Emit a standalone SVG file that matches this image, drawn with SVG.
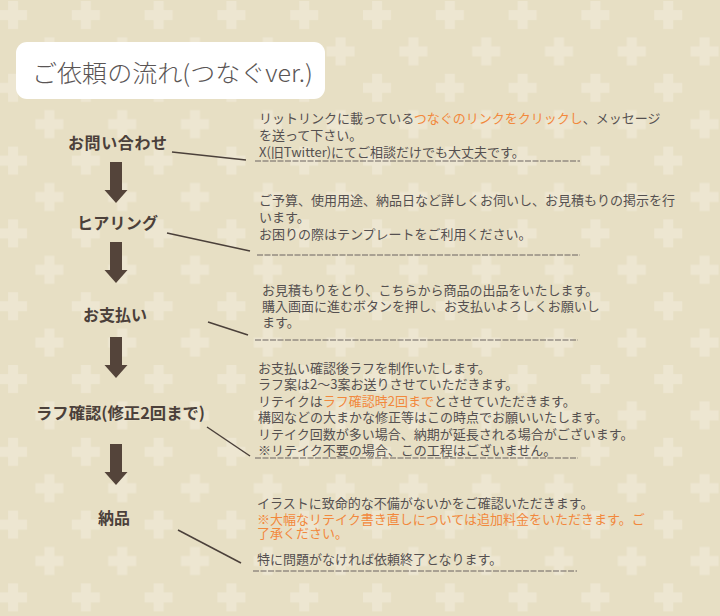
<svg xmlns="http://www.w3.org/2000/svg" xmlns:xlink="http://www.w3.org/1999/xlink" width="720" height="616" viewBox="0 0 720 616">
<style>
.lbl{font-family:"Noto Sans CJK JP","Noto Sans",sans-serif;font-weight:bold;font-size:16px;fill:#4b403a;}
.body{font-family:"Noto Sans CJK JP","Noto Sans",sans-serif;font-size:13px;fill:#555050;}
.hl{fill:#f2883c;}
.title{font-family:"Noto Sans CJK JP","Noto Sans",sans-serif;font-weight:300;font-size:24px;fill:#5a5555;}
.diag{stroke:#4b403a;stroke-width:1.5;fill:none;}
.rule{stroke:#6a6260;stroke-width:1;stroke-dasharray:6 1.5;fill:none;}
.arrow{fill:#54443a;}
</style>
<defs>
<pattern id="bgp" patternUnits="userSpaceOnUse" x="-5" y="-3" width="72.8" height="72.8">
<g fill="#ede6d1">
<rect x="4" y="13" width="28" height="10"/>
<rect x="13" y="4" width="10" height="28"/>
<rect x="40.4" y="49.4" width="28" height="10"/>
<rect x="49.4" y="40.4" width="10" height="28"/>
</g>
</pattern>
<path id="arr" d="M-6,0 H6 V28 H11.5 L0,41 L-11.5,28 H-6 Z"/>
</defs>
<rect width="720" height="616" fill="#e7dfc4"/>
<rect width="720" height="616" fill="url(#bgp)"/>

<g id="title">
<rect x="16" y="42" width="309" height="57" rx="11" fill="#ffffff"/>
<text class="title" x="32" y="82" textLength="281" lengthAdjust="spacingAndGlyphs">ご依頼の流れ(つなぐver.)</text>
</g>

<g id="step-inquiry">
<text class="lbl" x="68" y="149" textLength="99">お問い合わせ</text>
</g>
<g id="step-hearing">
<text class="lbl" x="77" y="229" textLength="81">ヒアリング</text>
</g>
<g id="step-payment">
<text class="lbl" x="83" y="321" textLength="64">お支払い</text>
</g>
<g id="step-rough">
<text class="lbl" x="36" y="419" textLength="169" lengthAdjust="spacingAndGlyphs">ラフ確認(修正2回まで)</text>
</g>
<g id="step-delivery">
<text class="lbl" x="98" y="524" textLength="32">納品</text>
</g>

<g id="text-inquiry">
<text class="body" x="259" y="123">リットリンクに載っている<tspan class="hl">つなぐのリンクをクリックし</tspan>、メッセージ<tspan x="259" dy="17">を送って下さい。</tspan><tspan x="259" dy="17">X(旧Twitter)にてご相談だけでも大丈夫です。</tspan></text>
</g>
<g id="text-hearing">
<text class="body" x="259" y="205">ご予算、使用用途、納品日など詳しくお伺いし、お見積もりの掲示を行<tspan x="259" dy="17">います。</tspan><tspan x="259" dy="17">お困りの際はテンプレートをご利用ください。</tspan></text>
</g>
<g id="text-payment">
<text class="body" x="262" y="295">お見積もりをとり、こちらから商品の出品をいたします。<tspan x="262" dy="16">購入画面に進むボタンを押し、お支払いよろしくお願いし</tspan><tspan x="262" dy="16">ます。</tspan></text>
</g>
<g id="text-rough">
<text class="body" x="258" y="373">お支払い確認後ラフを制作いたします。<tspan x="258" dy="16.4">ラフ案は2〜3案お送りさせていただきます。</tspan><tspan x="258" dy="16.4">リテイクは</tspan><tspan class="hl">ラフ確認時2回まで</tspan><tspan>とさせていただきます。</tspan><tspan x="258" dy="16.4">構図などの大まかな修正等はこの時点でお願いいたします。</tspan><tspan x="258" dy="16.4">リテイク回数が多い場合、納期が延長される場合がございます。</tspan><tspan x="258" dy="16.4">※リテイク不要の場合、この工程はございません。</tspan></text>
</g>
<g id="text-delivery">
<text class="body" x="257" y="508">イラストに致命的な不備がないかをご確認いただきます。<tspan class="hl" x="257" dy="16">※大幅なリテイク書き直しについては追加料金をいただきます。ご</tspan><tspan class="hl" x="257" dy="14">了承ください。</tspan><tspan x="257" dy="26">特に問題がなければ依頼終了となります。</tspan></text>
</g>

<g id="connectors">
<use href="#arr" class="arrow" x="116" y="162"/>
<use href="#arr" class="arrow" x="116" y="242"/>
<use href="#arr" class="arrow" x="116" y="337"/>
<use href="#arr" class="arrow" x="116" y="444"/>
<line class="diag" x1="172" y1="152" x2="246" y2="160"/>
<line class="diag" x1="167" y1="233" x2="250" y2="251"/>
<line class="diag" x1="208" y1="322" x2="248" y2="335"/>
<line class="diag" x1="207" y1="427" x2="250" y2="456"/>
<line class="diag" x1="178" y1="530" x2="241" y2="563"/>
<line class="rule" x1="255" y1="161" x2="580" y2="161"/>
<line class="rule" x1="257" y1="255" x2="580" y2="255"/>
<line class="rule" x1="255" y1="340" x2="578" y2="340"/>
<line class="rule" x1="255" y1="458" x2="578" y2="458"/>
<line class="rule" x1="253" y1="571" x2="577" y2="571"/>
</g>
</svg>
